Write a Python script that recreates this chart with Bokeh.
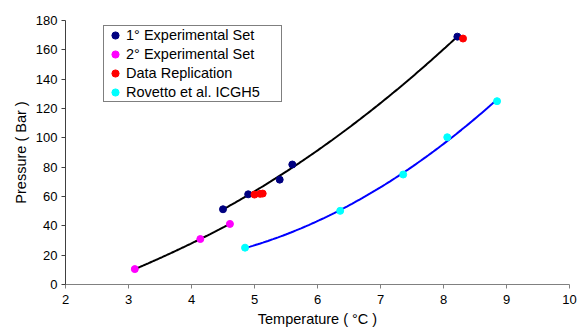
import numpy as np
from bokeh.plotting import figure
from bokeh.models import Range1d, FixedTicker, Legend, LegendItem
from bokeh.embed import file_html
from bokeh.resources import INLINE

# Data
set1_T = [4.5, 4.9, 5.4, 5.6, 8.22]
set1_P = [51.3, 61.5, 71.5, 81.8, 169.0]
set2_T = [3.1, 4.14, 4.61]
set2_P = [10.5, 31.0, 41.3]
repl_T = [5.0, 5.09, 5.13, 8.31]
repl_P = [61.3, 61.8, 62.0, 167.7]
rov_T = [4.85, 6.36, 7.36, 8.06, 8.85]
rov_P = [25.1, 50.2, 75.0, 100.4, 125.0]
x_ticks = [2, 3, 4, 5, 6, 7, 8, 9, 10]
y_ticks = [0, 20, 40, 60, 80, 100, 120, 140, 160, 180]

FONT = "Liberation Sans"

p = figure(width=578, height=331, output_backend="svg", toolbar_location=None,
           x_range=Range1d(2, 10), y_range=Range1d(0, 180),
           min_border_left=65, min_border_right=9, min_border_top=20, min_border_bottom=47)
p.outline_line_color = None
p.xgrid.visible = False
p.ygrid.visible = False
p.background_fill_color = "white"
p.border_fill_color = "white"


def trend(T, P, deg=2):
    c = np.polyfit(T, P, deg)
    xs = np.linspace(min(T), max(T), 100)
    return xs, np.polyval(c, xs)

xs, ys = trend(set1_T, set1_P)
p.line(xs, ys, line_color="black", line_width=2)
xs, ys = trend(set2_T, set2_P)
p.line(xs, ys, line_color="black", line_width=2)
xs, ys = trend(rov_T, rov_P)
p.line(xs, ys, line_color="#0000ff", line_width=2)

r1 = p.scatter(set1_T, set1_P, size=7, color="#000080")
r2 = p.scatter(set2_T, set2_P, size=7, color="#ff00ff")
r3 = p.scatter(repl_T, repl_P, size=7, color="#ff0000")
r4 = p.scatter(rov_T, rov_P, size=7, color="#00ffff")

legend = Legend(items=[
    LegendItem(label="1° Experimental Set", renderers=[r1]),
    LegendItem(label="2° Experimental Set", renderers=[r2]),
    LegendItem(label="Data Replication", renderers=[r3]),
    LegendItem(label="Rovetto et al. ICGH5", renderers=[r4]),
], location=(38, 182))
legend.border_line_color = "black"
legend.border_line_width = 1
legend.label_text_font = FONT
legend.label_text_font_size = "14.5px"
legend.label_text_color = "black"
legend.glyph_width = 22
legend.glyph_height = 18
legend.label_height = 18
legend.label_width = 155
legend.label_standoff = 0
legend.spacing = 1
legend.padding = 0
legend.margin = 0
legend.background_fill_alpha = 1
p.add_layout(legend, "center")

for ax in (p.xaxis[0], p.yaxis[0]):
    ax.major_label_text_font = FONT
    ax.major_label_text_font_size = "13px"
    ax.major_label_text_color = "black"
    ax.axis_label_text_font = FONT
    ax.axis_label_text_font_size = "14.5px"
    ax.axis_label_text_font_style = "normal"
    ax.axis_label_text_color = "black"
    ax.minor_tick_line_color = None
    ax.major_tick_in = 0
    ax.major_tick_out = 4

p.xaxis.ticker = FixedTicker(ticks=x_ticks)
p.yaxis.ticker = FixedTicker(ticks=y_ticks)
p.xaxis.axis_label = "Temperature ( °C )"
p.yaxis.axis_label = "Pressure ( Bar )"
p.xaxis.axis_line_color = "#808080"
p.xaxis.major_tick_line_color = "#808080"
p.yaxis.axis_line_color = "#404040"
p.yaxis.major_tick_line_color = "#404040"
p.xaxis.major_label_standoff = 6
p.xaxis.axis_label_standoff = 4
p.yaxis.major_label_standoff = 4
p.yaxis.axis_label_standoff = 4

open("out.html", "w").write(file_html(p, INLINE))
